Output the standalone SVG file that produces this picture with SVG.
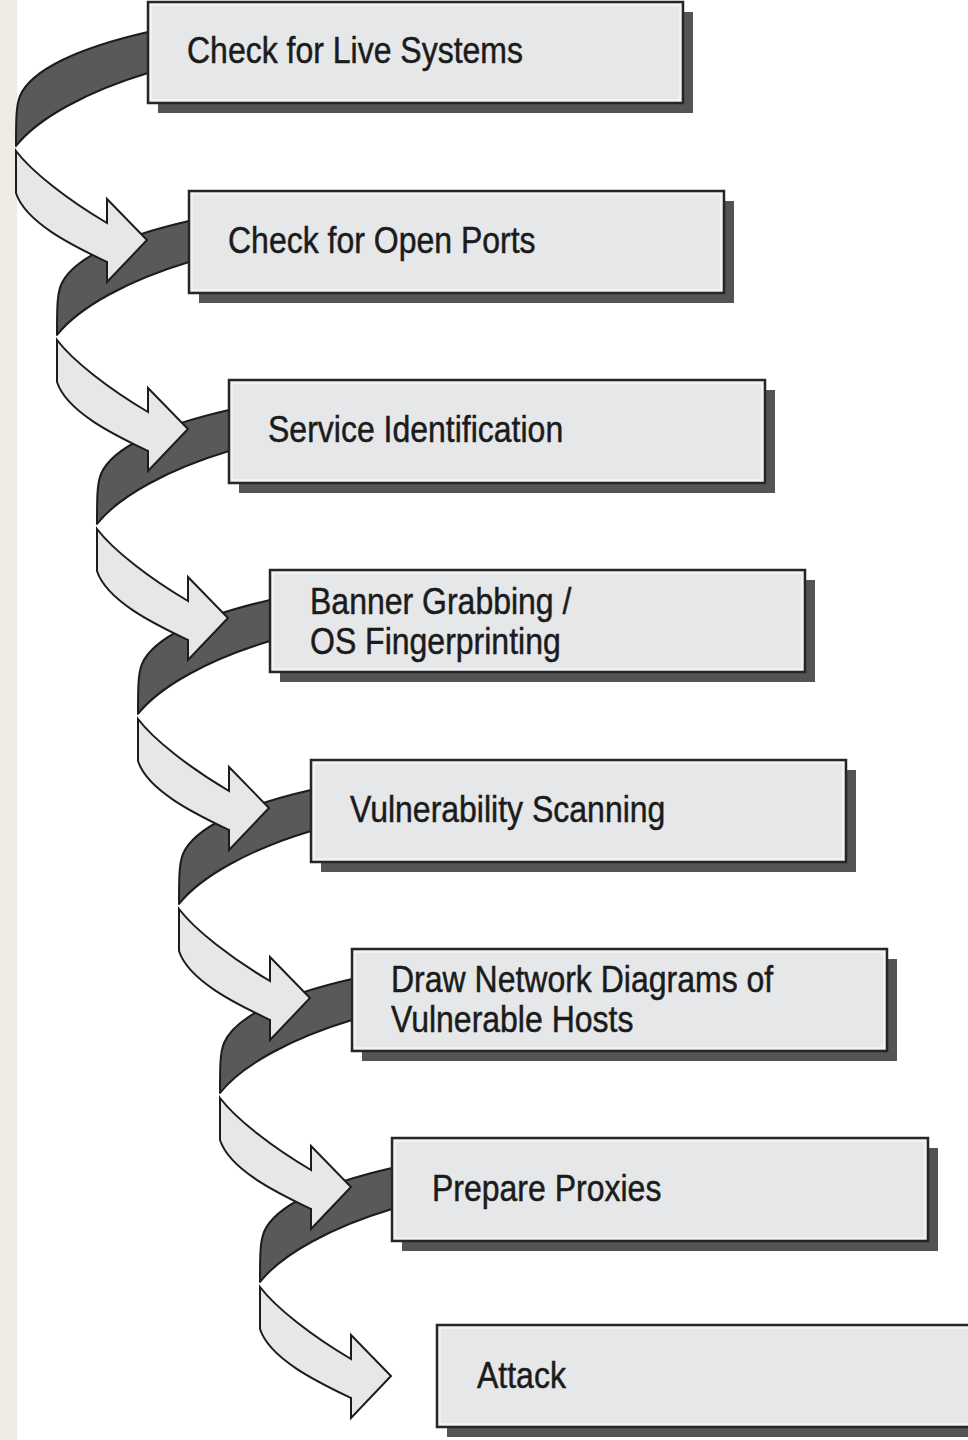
<svg xmlns="http://www.w3.org/2000/svg" xmlns:xlink="http://www.w3.org/1999/xlink" width="968" height="1440" viewBox="0 0 968 1440">
<style>
.bg{fill:#ffffff}
.strip{fill:#eeebe5}
.dark{fill:#58595b;stroke:#1c1c1c;stroke-width:2;stroke-linejoin:round}
.light{fill:#e6e7e8;stroke:#1c1c1c;stroke-width:2;stroke-linejoin:miter}
.shadow{fill:#535456}
.box{fill:#e6e7e9;stroke:#262626;stroke-width:2.5}
.hl{fill:none;stroke:#fbfbfb;stroke-width:1.2}
.lbl{font-family:"Liberation Sans",Arial,sans-serif;font-size:37px;fill:#1b1b1b;stroke:#1b1b1b;stroke-width:0.5}
</style>
<defs>
<path id="darkband" class="dark" d="M 4,30 L 0,30 C -70,46 -117,68 -128,94 C -132,104 -132,118 -132,144 C -110,116 -60,89 0,71 L 4,71 Z"/>
<path id="lightarrow" class="light" d="M -132,149 C -116,170 -80,198 -41,221 L -41,197 L -1,238 L -41,280 L -41,260 C -70,246 -122,222 -132,191 Z"/>
</defs>
<rect class="bg" x="0" y="0" width="968" height="1440"/>
<rect class="strip" x="0" y="0" width="17" height="1440"/>
<g id="connectors">
<use xlink:href="#darkband" x="148" y="2"/>
<use xlink:href="#darkband" x="189" y="191"/>
<use xlink:href="#darkband" x="229" y="380"/>
<use xlink:href="#darkband" x="270" y="570"/>
<use xlink:href="#darkband" x="311" y="760"/>
<use xlink:href="#darkband" x="352" y="949"/>
<use xlink:href="#darkband" x="392" y="1138"/>
<use xlink:href="#lightarrow" x="148" y="2"/>
<use xlink:href="#lightarrow" x="189" y="191"/>
<use xlink:href="#lightarrow" x="229" y="380"/>
<use xlink:href="#lightarrow" x="270" y="570"/>
<use xlink:href="#lightarrow" x="311" y="760"/>
<use xlink:href="#lightarrow" x="352" y="949"/>
<use xlink:href="#lightarrow" x="392" y="1138"/>
</g>
<g id="node1">
<rect class="shadow" x="158" y="12" width="535" height="101"/>
<rect class="box" x="148" y="2" width="535" height="101"/>
<rect class="hl" x="151" y="5" width="529" height="95"/>
<text class="lbl" transform="translate(187 63) scale(0.865 1)">Check for Live Systems</text>
</g>
<g id="node2">
<rect class="shadow" x="199" y="201" width="535" height="102"/>
<rect class="box" x="189" y="191" width="535" height="102"/>
<rect class="hl" x="192" y="194" width="529" height="96"/>
<text class="lbl" transform="translate(228 253) scale(0.865 1)">Check for Open Ports</text>
</g>
<g id="node3">
<rect class="shadow" x="239" y="390" width="536" height="103"/>
<rect class="box" x="229" y="380" width="536" height="103"/>
<rect class="hl" x="232" y="383" width="530" height="97"/>
<text class="lbl" transform="translate(268 442) scale(0.865 1)">Service Identification</text>
</g>
<g id="node4">
<rect class="shadow" x="280" y="580" width="535" height="102"/>
<rect class="box" x="270" y="570" width="535" height="102"/>
<rect class="hl" x="273" y="573" width="529" height="96"/>
<text class="lbl" transform="translate(310 614) scale(0.865 1)">Banner Grabbing /</text>
<text class="lbl" transform="translate(310 654) scale(0.865 1)">OS Fingerprinting</text>
</g>
<g id="node5">
<rect class="shadow" x="321" y="770" width="535" height="102"/>
<rect class="box" x="311" y="760" width="535" height="102"/>
<rect class="hl" x="314" y="763" width="529" height="96"/>
<text class="lbl" transform="translate(350 822) scale(0.865 1)">Vulnerability Scanning</text>
</g>
<g id="node6">
<rect class="shadow" x="362" y="959" width="535" height="102"/>
<rect class="box" x="352" y="949" width="535" height="102"/>
<rect class="hl" x="355" y="952" width="529" height="96"/>
<text class="lbl" transform="translate(391 992) scale(0.865 1)">Draw Network Diagrams of</text>
<text class="lbl" transform="translate(391 1032) scale(0.865 1)">Vulnerable Hosts</text>
</g>
<g id="node7">
<rect class="shadow" x="402" y="1148" width="536" height="103"/>
<rect class="box" x="392" y="1138" width="536" height="103"/>
<rect class="hl" x="395" y="1141" width="530" height="97"/>
<text class="lbl" transform="translate(432 1201) scale(0.865 1)">Prepare Proxies</text>
</g>
<g id="node8">
<rect class="shadow" x="447" y="1335" width="540" height="102"/>
<rect class="box" x="437" y="1325" width="540" height="102"/>
<rect class="hl" x="440" y="1328" width="534" height="96"/>
<text class="lbl" transform="translate(477 1388) scale(0.865 1)">Attack</text>
</g>
</svg>
